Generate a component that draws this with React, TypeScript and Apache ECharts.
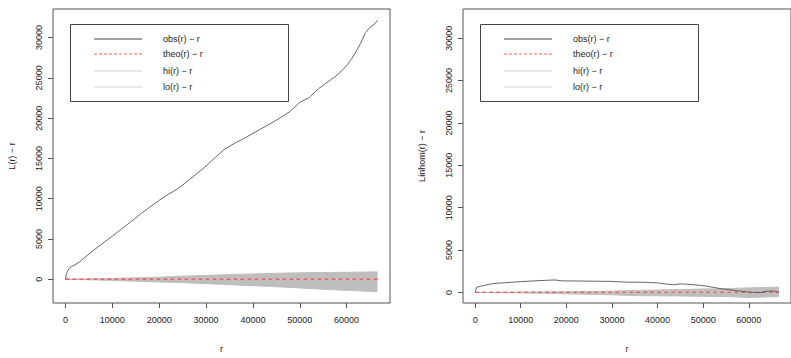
import React, { useEffect, useRef } from "react";
import * as echarts from "echarts";

// ---- data ----
const xTicks = [0, 10000, 20000, 30000, 40000, 50000, 60000];
const yTicks = [0, 5000, 10000, 15000, 20000, 25000, 30000];

const leftObsR = [0, 200, 500, 1000, 1500, 2000, 3000, 4000, 6000, 8000, 10000, 12000, 14000, 16000, 18000, 20000, 22000, 24000, 26000, 28000, 30000, 32000, 34000, 36000, 38000, 40000, 42000, 44000, 46000, 48000, 50000, 52000, 54000, 56000, 58000, 60000, 61000, 62000, 63000, 64000, 65000, 66000, 66600];
const leftObs = [0, 600, 1100, 1450, 1650, 1780, 2150, 2650, 3600, 4480, 5350, 6250, 7150, 8100, 8950, 9800, 10550, 11250, 12150, 13100, 14050, 15150, 16150, 16850, 17450, 18100, 18750, 19400, 20100, 20850, 21950, 22550, 23650, 24500, 25350, 26500, 27300, 28250, 29300, 30600, 31300, 31700, 32150];

const rightObsR = [0, 300, 1500, 3000, 4000, 6000, 8000, 10000, 12000, 14000, 16000, 17500, 19000, 22000, 26000, 30000, 32000, 34000, 36000, 38000, 40000, 42000, 43500, 45000, 46500, 48000, 50000, 52000, 54000, 56000, 58000, 60000, 61000, 62500, 64000, 65500, 66600];
const rightObs = [0, 600, 760, 950, 1050, 1120, 1200, 1270, 1330, 1390, 1440, 1470, 1360, 1350, 1320, 1300, 1240, 1200, 1210, 1180, 1120, 980, 900, 1010, 960, 900, 800, 620, 430, 300, 150, 40, 0, -30, 150, 150, 30];

const envR = [0, 5000, 10000, 15000, 20000, 25000, 30000, 35000, 40000, 45000, 50000, 55000, 60000, 65000, 66600];
const leftHi = [0, 40, 100, 170, 250, 380, 480, 580, 660, 740, 800, 830, 860, 900, 910];
const leftLo = [0, -60, -150, -250, -330, -430, -550, -680, -800, -930, -1080, -1250, -1380, -1500, -1550];
const rightHi = [0, 20, 40, 60, 80, 110, 160, 230, 280, 330, 400, 450, 530, 600, 640];
const rightLo = [0, -30, -60, -100, -170, -230, -280, -380, -400, -420, -460, -490, -600, -520, -490];

const theoR = [0, 66600];
const theoVals = [0, 0];

const legendLabels = ["obs(r) − r", "theo(r) − r", "hi(r) − r", "lo(r) − r"];
const yNames = ["L(r) − r", "Linhom(r) − r"];

const FONT = '"Liberation Sans", Arial, sans-serif';

function pairs(xs: number[], ys: number[]) {
  return xs.map((x, i) => [x, ys[i]]);
}

const plain = (v: number) => String(v);

export default function App() {
  const ref = useRef<HTMLDivElement>(null);
  useEffect(() => {
    if (!ref.current) return;
    const chart = echarts.init(ref.current, undefined, { renderer: "svg" });

    const grids = [
      { left: 53, top: 9, width: 337, height: 306 },
      { left: 463, top: 9, width: 334, height: 306 },
    ];
    const yRanges = [
      [-2950, 33550],
      [-1250, 33450],
    ];

    const xAxes = grids.map((_, i) => ({
      type: "value",
      gridIndex: i,
      position: "bottom",
      min: -2660,
      max: 69260,
      name: "r",
      nameLocation: "middle",
      nameGap: 41,
      nameTextStyle: { fontFamily: FONT, fontSize: 9, color: "#222" },
      axisLine: { show: false, onZero: false },
      splitLine: { show: false },
      axisTick: { show: true, length: 5, customValues: xTicks, lineStyle: { color: "#555" } },
      axisLabel: { customValues: xTicks, formatter: plain, fontFamily: FONT, fontSize: 9, color: "#222", margin: 12 },
    }));
    const yAxes = grids.map((_, i) => ({
      type: "value",
      gridIndex: i,
      position: "left",
      min: yRanges[i][0],
      max: yRanges[i][1],
      name: yNames[i],
      nameLocation: "middle",
      nameRotate: 90,
      nameGap: 37,
      nameTextStyle: { fontFamily: FONT, fontSize: 9, color: "#222" },
      axisLine: { show: false, onZero: false },
      splitLine: { show: false },
      axisTick: { show: true, length: 5, customValues: yTicks, lineStyle: { color: "#555" } },
      axisLabel: { customValues: yTicks, formatter: plain, rotate: 90, fontFamily: FONT, fontSize: 9, color: "#222", margin: 10 },
    }));

    const band = (i: number, vals: number[]) => ({
      type: "line",
      xAxisIndex: i,
      yAxisIndex: i,
      data: pairs(envR, vals),
      showSymbol: false,
      lineStyle: { color: "#bebebe", width: 1 },
      areaStyle: { color: "#bebebe", opacity: 1 },
      z: 1,
    });
    const theo = (i: number) => ({
      type: "line",
      xAxisIndex: i,
      yAxisIndex: i,
      data: pairs(theoR, theoVals),
      showSymbol: false,
      lineStyle: { color: "#f06060", width: 1.3, type: [4, 3] },
      z: 3,
    });
    const obs = (i: number, xs: number[], ys: number[]) => ({
      type: "line",
      xAxisIndex: i,
      yAxisIndex: i,
      data: pairs(xs, ys),
      showSymbol: false,
      lineStyle: { color: "#555", width: 0.9 },
      z: 4,
    });

    const legendGraphic = (boxX: number, lineX: number, textX: number) => {
      const rows = [39, 54, 71, 87];
      const styles = [
        { stroke: "#444", lineWidth: 1 },
        { stroke: "#ff5a5a", lineWidth: 1, lineDash: [3, 2] },
        { stroke: "#e6e6e6", lineWidth: 2.2 },
        { stroke: "#d3d3d3", lineWidth: 1 },
      ];
      const els: any[] = [
        {
          type: "rect",
          shape: { x: boxX + 0.5, y: 24.5, width: 218, height: 77 },
          style: { fill: "transparent", stroke: "#444", lineWidth: 1 },
          z: 10,
        },
      ];
      rows.forEach((y, k) => {
        els.push({
          type: "line",
          shape: { x1: lineX, y1: y, x2: lineX + 48, y2: y },
          style: styles[k],
          z: 10,
        });
        els.push({
          type: "text",
          x: textX,
          y: y,
          style: {
            text: legendLabels[k],
            font: `9px ${FONT}`,
            fill: "#222",
            verticalAlign: "middle",
            align: "left",
          },
          z: 10,
        });
      });
      return els;
    };

    chart.setOption({
      animation: false,
      backgroundColor: "#fff",
      grid: grids.map((g) => ({ ...g, show: true, borderColor: "#555", borderWidth: 1, backgroundColor: "transparent" })),
      xAxis: xAxes,
      yAxis: yAxes,
      series: [
        band(0, leftHi),
        band(0, leftLo),
        theo(0),
        obs(0, leftObsR, leftObs),
        band(1, rightHi),
        band(1, rightLo),
        theo(1),
        obs(1, rightObsR, rightObs),
      ],
      graphic: [...legendGraphic(70, 94, 163), ...legendGraphic(480, 504, 573)],
    } as any);

    return () => chart.dispose();
  }, []);

  return (
    <div
      ref={ref}
      style={{ position: "fixed", left: 0, top: 0, width: 791, height: 358, background: "#fff" }}
    />
  );
}
